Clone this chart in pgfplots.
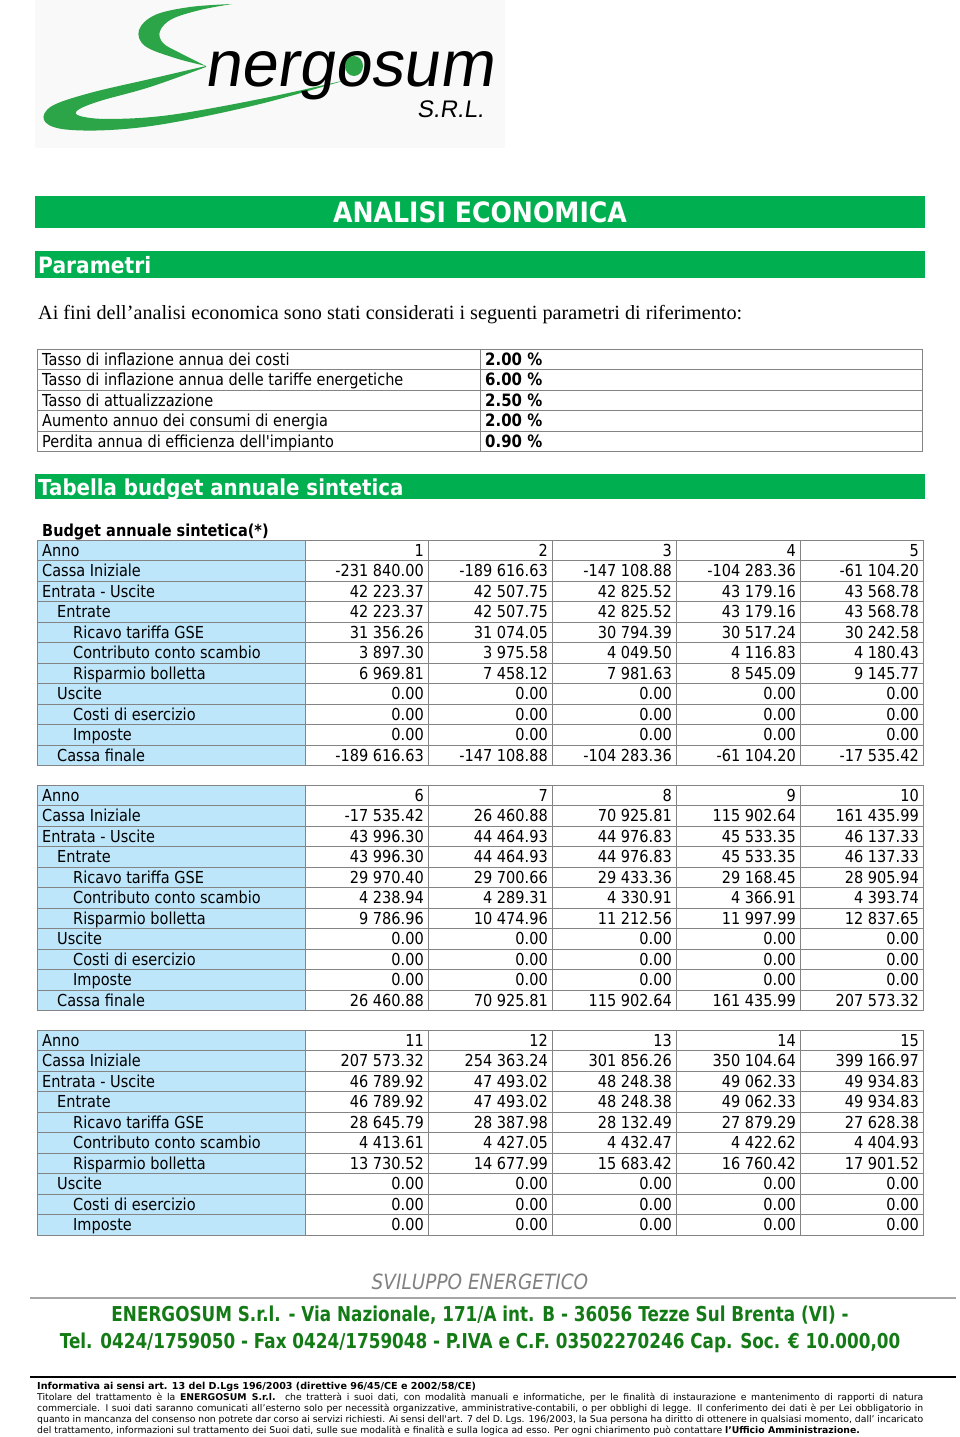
\documentclass[border=0pt]{standalone}
\usepackage{pgfplots}
\pgfplotsset{compat=1.18}
\usepackage{fontspec}
\setmainfont{Liberation Serif}
\newfontfamily\tah[FakeStretch=0.88]{DejaVu Sans}
\newfontfamily\hdg[FakeStretch=0.9]{DejaVu Sans}
\newfontfamily\foot[FakeStretch=0.82]{DejaVu Sans}
\newfontfamily\vrd{DejaVu Sans}
\newfontfamily\logof[FakeSlant=0.15]{Liberation Sans}

\definecolor{barg}{RGB}{0,176,80}
\definecolor{cellb}{RGB}{189,230,250}
\definecolor{lineg}{RGB}{132,132,132}
\definecolor{logog}{RGB}{44,165,72}
\definecolor{footg}{RGB}{20,122,22}

\newcommand\fs[1]{\fontsize{#1}{#1}\selectfont}

% one row of the budget table: y centre, x of label, label, five values
\newcommand\brow[8]{%
  \draw[lineg] (37,{#1+10.25}) -- (923,{#1+10.25});
  \node[anchor=base west,inner sep=0,font=\tah\fs{16.5}] at (#2,{#1+6}) {#3};
  \node[anchor=base east,inner sep=0,font=\tah\fs{16.5}] at (424,{#1+6}) {#4};
  \node[anchor=base east,inner sep=0,font=\tah\fs{16.5}] at (548,{#1+6}) {#5};
  \node[anchor=base east,inner sep=0,font=\tah\fs{16.5}] at (672,{#1+6}) {#6};
  \node[anchor=base east,inner sep=0,font=\tah\fs{16.5}] at (796,{#1+6}) {#7};
  \node[anchor=base east,inner sep=0,font=\tah\fs{16.5}] at (919,{#1+6}) {#8};
}
% frame of a budget table: top, bottom
\newcommand\bframe[2]{%
  \fill[cellb] (37,#1) rectangle (305,#2);
  \draw[lineg] (37,#1) rectangle (923,#2);
  \draw[lineg] (305,#1) -- (305,#2);
  \draw[lineg] (428,#1) -- (428,#2);
  \draw[lineg] (552,#1) -- (552,#2);
  \draw[lineg] (676,#1) -- (676,#2);
  \draw[lineg] (800,#1) -- (800,#2);
}
% parameter row: y centre, label, value
\newcommand\prow[3]{%
  \node[anchor=base west,inner sep=0,font=\tah\fs{16.5}] at (42,{#1+6}) {#2};
  \node[anchor=base west,inner sep=0,font=\tah\bfseries\fs{17}] at (485,{#1+6}) {#3};
}

\begin{document}
\begin{tikzpicture}
\begin{axis}[
  width=960pt, height=1437pt, scale only axis,
  xmin=0, xmax=960, ymin=0, ymax=1437, y dir=reverse,
  hide axis, clip=false]
\addplot[draw=none] coordinates {(0,0) (960,1437)};

% logo
\fill[gray!5] (35,0) rectangle (505,148);
\fill[logog] plot[smooth,tension=0.6] coordinates {(232,4) (190,7) (155,15) (139,30) (145,46) (175,58) (206,66)}
  -- plot[smooth,tension=0.6] coordinates {(206,66) (180,53) (163,43) (160,31) (172,19) (200,10) (232,4)} -- cycle;
\fill[logog] plot[smooth,tension=0.6] coordinates {(206,66) (150,79) (90,93) (52,106) (44,120) (62,129) (110,130) (170,123) (260,104) (346,80)}
  -- plot[smooth,tension=0.6] coordinates {(346,80) (260,99) (170,115) (110,119) (80,116) (78,110) (100,101) (150,87) (206,67)} -- cycle;
\node[anchor=base west,inner sep=0,font=\logof\fs{65}] at (204,86) {nergosum};
\fill[logog] (354,66) ellipse [x radius=9, y radius=10];
\node[anchor=base west,inner sep=0,font=\logof\fs{24}] at (417,117) {S.R.L.};

% headings
\fill[barg] (35,196) rectangle (925,228);
\node[anchor=base,inner sep=0,white,font=\hdg\bfseries\fs{28}] at (480,222.5) {ANALISI ECONOMICA};
\fill[barg] (35,251) rectangle (925,278);
\node[anchor=base west,inner sep=0,white,font=\hdg\bfseries\fs{22.5}] at (38,273) {Parametri};

\node[anchor=base west,inner sep=0,font=\fs{20.2}] at (38,319.5) {Ai fini dell’analisi economica sono stati considerati i seguenti parametri di riferimento:};

% parameters
\draw[lineg] (37,348.75) rectangle (922,451.25);
\draw[lineg] (480,348.75) -- (480,451.25);
\draw[lineg] (37,369.25) -- (922,369.25);
\draw[lineg] (37,389.75) -- (922,389.75);
\draw[lineg] (37,410.25) -- (922,410.25);
\draw[lineg] (37,430.75) -- (922,430.75);
\prow{359}{Tasso di inflazione annua dei costi}{2.00 \%}
\prow{379.5}{Tasso di inflazione annua delle tariffe energetiche}{6.00 \%}
\prow{400}{Tasso di attualizzazione}{2.50 \%}
\prow{420.5}{Aumento annuo dei consumi di energia}{2.00 \%}
\prow{441}{Perdita annua di efficienza dell'impianto}{0.90 \%}

\fill[barg] (35,474) rectangle (925,499);
\node[anchor=base west,inner sep=0,white,font=\hdg\bfseries\fs{22}] at (38,495) {Tabella budget annuale sintetica};
\node[anchor=base west,inner sep=0,font=\tah\bfseries\fs{16.5}] at (42,536) {Budget annuale sintetica(*)};

% years 1-5
\bframe{539.75}{765.25}
\brow{550}{42}{Anno}{1}{2}{3}{4}{5}
\brow{570.5}{42}{Cassa Iniziale}{-231 840.00}{-189 616.63}{-147 108.88}{-104 283.36}{-61 104.20}
\brow{591}{42}{Entrata - Uscite}{42 223.37}{42 507.75}{42 825.52}{43 179.16}{43 568.78}
\brow{611.5}{57}{Entrate}{42 223.37}{42 507.75}{42 825.52}{43 179.16}{43 568.78}
\brow{632}{73}{Ricavo tariffa GSE}{31 356.26}{31 074.05}{30 794.39}{30 517.24}{30 242.58}
\brow{652.5}{73}{Contributo conto scambio}{3 897.30}{3 975.58}{4 049.50}{4 116.83}{4 180.43}
\brow{673}{73}{Risparmio bolletta}{6 969.81}{7 458.12}{7 981.63}{8 545.09}{9 145.77}
\brow{693.5}{57}{Uscite}{0.00}{0.00}{0.00}{0.00}{0.00}
\brow{714}{73}{Costi di esercizio}{0.00}{0.00}{0.00}{0.00}{0.00}
\brow{734.5}{73}{Imposte}{0.00}{0.00}{0.00}{0.00}{0.00}
\brow{755}{57}{Cassa finale}{-189 616.63}{-147 108.88}{-104 283.36}{-61 104.20}{-17 535.42}

% years 6-10
\bframe{784.75}{1010.25}
\brow{795}{42}{Anno}{6}{7}{8}{9}{10}
\brow{815.5}{42}{Cassa Iniziale}{-17 535.42}{26 460.88}{70 925.81}{115 902.64}{161 435.99}
\brow{836}{42}{Entrata - Uscite}{43 996.30}{44 464.93}{44 976.83}{45 533.35}{46 137.33}
\brow{856.5}{57}{Entrate}{43 996.30}{44 464.93}{44 976.83}{45 533.35}{46 137.33}
\brow{877}{73}{Ricavo tariffa GSE}{29 970.40}{29 700.66}{29 433.36}{29 168.45}{28 905.94}
\brow{897.5}{73}{Contributo conto scambio}{4 238.94}{4 289.31}{4 330.91}{4 366.91}{4 393.74}
\brow{918}{73}{Risparmio bolletta}{9 786.96}{10 474.96}{11 212.56}{11 997.99}{12 837.65}
\brow{938.5}{57}{Uscite}{0.00}{0.00}{0.00}{0.00}{0.00}
\brow{959}{73}{Costi di esercizio}{0.00}{0.00}{0.00}{0.00}{0.00}
\brow{979.5}{73}{Imposte}{0.00}{0.00}{0.00}{0.00}{0.00}
\brow{1000}{57}{Cassa finale}{26 460.88}{70 925.81}{115 902.64}{161 435.99}{207 573.32}

% years 11-15
\bframe{1029.75}{1234.75}
\brow{1040}{42}{Anno}{11}{12}{13}{14}{15}
\brow{1060.5}{42}{Cassa Iniziale}{207 573.32}{254 363.24}{301 856.26}{350 104.64}{399 166.97}
\brow{1081}{42}{Entrata - Uscite}{46 789.92}{47 493.02}{48 248.38}{49 062.33}{49 934.83}
\brow{1101.5}{57}{Entrate}{46 789.92}{47 493.02}{48 248.38}{49 062.33}{49 934.83}
\brow{1122}{73}{Ricavo tariffa GSE}{28 645.79}{28 387.98}{28 132.49}{27 879.29}{27 628.38}
\brow{1142.5}{73}{Contributo conto scambio}{4 413.61}{4 427.05}{4 432.47}{4 422.62}{4 404.93}
\brow{1163}{73}{Risparmio bolletta}{13 730.52}{14 677.99}{15 683.42}{16 760.42}{17 901.52}
\brow{1183.5}{57}{Uscite}{0.00}{0.00}{0.00}{0.00}{0.00}
\brow{1204}{73}{Costi di esercizio}{0.00}{0.00}{0.00}{0.00}{0.00}
\brow{1224.5}{73}{Imposte}{0.00}{0.00}{0.00}{0.00}{0.00}

% footer
\node[anchor=base,inner sep=0,gray,font=\tah\itshape\fs{21}] at (480,1289) {SVILUPPO ENERGETICO};
\draw[gray!70,line width=1.5pt] (30,1298) -- (956,1298);
\node[anchor=base,inner sep=0,footg,font=\foot\bfseries\fs{20.5}] at (480,1321) {ENERGOSUM S.r.l. - Via Nazionale, 171/A int. B - 36056 Tezze Sul Brenta (VI) -};
\node[anchor=base,inner sep=0,footg,font=\foot\bfseries\fs{20.5}] at (480,1348) {Tel. 0424/1759050 - Fax 0424/1759048 - P.IVA e C.F. 03502270246 Cap. Soc. € 10.000,00};
\draw[black,line width=2pt] (30,1377) -- (956,1377);

\node[anchor=base west,inner sep=0,font=\vrd\bfseries\fs{9.6}] at (37,1389.5) {Informativa ai sensi art. 13 del D.Lgs 196/2003 (direttive 96/45/CE e 2002/58/CE)};
\node[anchor=base west,inner sep=0,font=\vrd\fs{9.3}] at (37,1400.5) {\makebox[886pt][s]{Titolare del trattamento è la \textbf{ENERGOSUM S.r.l.}\ \ che tratterà i suoi dati, con modalità manuali e informatiche, per le finalità di instaurazione e mantenimento di rapporti di natura}};
\node[anchor=base west,inner sep=0,font=\vrd\fs{9.3}] at (37,1411.5) {\makebox[886pt][s]{commerciale. I suoi dati saranno comunicati all’esterno solo per necessità organizzative, amministrative-contabili, o per obblighi di legge. Il conferimento dei dati è per Lei obbligatorio in}};
\node[anchor=base west,inner sep=0,font=\vrd\fs{9.3}] at (37,1422.5) {\makebox[886pt][s]{quanto in mancanza del consenso non potrete dar corso ai servizi richiesti. Ai sensi dell'art. 7 del D. Lgs. 196/2003, la Sua persona ha diritto di ottenere in qualsiasi momento, dall’ incaricato}};
\node[anchor=base west,inner sep=0,font=\vrd\fs{9.3}] at (37,1433.5) {del trattamento, informazioni sul trattamento dei Suoi dati, sulle sue modalità e finalità e sulla logica ad esso. Per ogni chiarimento può contattare \textbf{l’Ufficio Amministrazione.}};
\end{axis}
\end{tikzpicture}
\end{document}
